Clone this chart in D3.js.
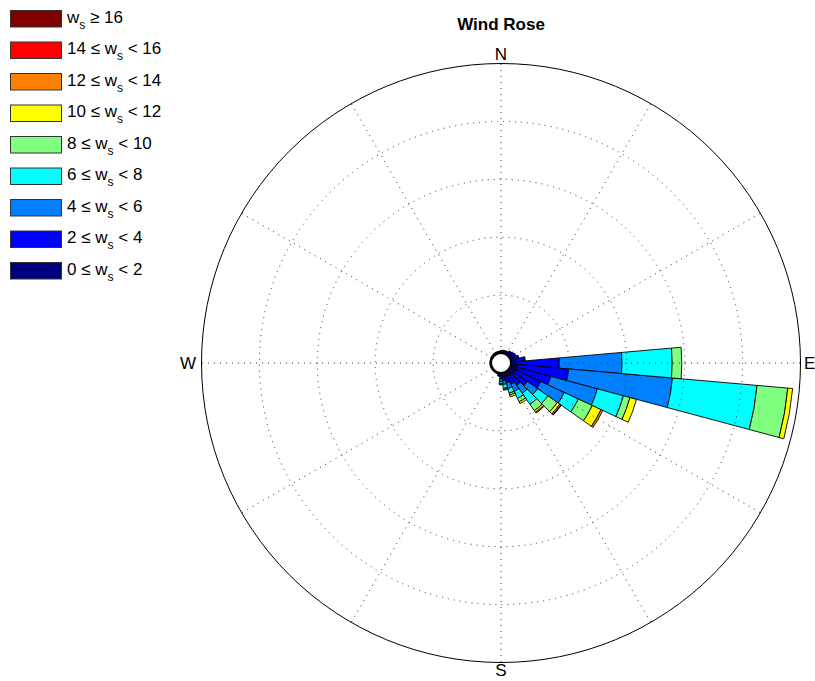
<!DOCTYPE html>
<html>
<head>
<meta charset="utf-8">
<script src="https://cdn.jsdelivr.net/npm/d3@7"></script>
<style>
  body { margin: 0; background: #fff; }
  svg { font-family: "Liberation Sans", Arial, sans-serif; }
</style>
</head>
<body>
<svg id="chart" width="815" height="681"></svg>
<script>
// directions (bearing, deg clockwise from N), 10 deg bins
var dirs = d3.range(0, 360, 10);

// frequency (%) per speed class, one value per direction
var ws0_2   = [0.25,0.3,0.3,0.35,0.4,0.4,0.4,0.4,0.5,0.7,0.7,0.7,0.7,0.6,0.6,0.5,0.5,0.4,0.3,0.2,0.15,0.12,0.12,0.12,0.12,0.12,0.12,0.12,0.12,0.12,0.15,0.15,0.2,0.2,0.2,0.2];
var ws2_4   = [0,0,0,0,0.1,0.2,0.3,0.5,0.9,4.3,5.3,3.6,2.8,1.7,1.2,0.9,0.6,0.4,0.3,0.15,0,0,0,0,0,0,0,0,0,0,0,0,0,0,0,0];
var ws4_6   = [0,0,0,0,0,0,0,0,0.1,6.5,10.8,5.0,2.7,1.3,1.0,0.8,0.6,0.4,0.3,0,0,0,0,0,0,0,0,0,0,0,0,0,0,0,0,0];
var ws6_8   = [0,0,0,0,0,0,0,0,0,5.2,8.8,2.8,1.6,1.3,1.4,0.8,0.5,0.4,0.2,0,0,0,0,0,0,0,0,0,0,0,0,0,0,0,0,0];
var ws8_10  = [0,0,0,0,0,0,0,0,0,1.0,3.2,0.7,1.6,1.2,0.8,0.4,0.2,0.1,0.1,0,0,0,0,0,0,0,0,0,0,0,0,0,0,0,0,0];
var ws10_12 = [0,0,0,0,0,0,0,0,0,0,0.5,0.7,1.0,0.3,0.2,0.2,0.2,0.1,0,0,0,0,0,0,0,0,0,0,0,0,0,0,0,0,0,0];
var ws12_14 = [0,0,0,0,0,0,0,0,0,0,0,0,0.2,0.15,0.1,0,0,0,0,0,0,0,0,0,0,0,0,0,0,0,0,0,0,0,0,0];
var ws14_16 = [0,0,0,0,0,0,0,0,0,0,0,0,0,0.05,0,0,0,0,0,0,0,0,0,0,0,0,0,0,0,0,0,0,0,0,0,0];
var ws16_   = [0,0,0,0,0,0,0,0,0,0,0,0,0,0,0,0,0,0,0,0,0,0,0,0,0,0,0,0,0,0,0,0,0,0,0,0];

var series = [ws0_2, ws2_4, ws4_6, ws6_8, ws8_10, ws10_12, ws12_14, ws14_16, ws16_];
var lows   = [0, 2, 4, 6, 8, 10, 12, 14, 16];
var colors = ['#000080','#0000ff','#0080ff','#00ffff','#80ff80','#ffff00','#ff8000','#ff0000','#800000'];

var compass = [['N',0],['E',90],['S',180],['W',270]];

var cx = 501, cy = 363, r0 = 10, R = 299.5, maxFreq = 30, ringStep = 6;

var svg = d3.select('#chart');

var rScale = d3.scaleLinear().domain([0, maxFreq]).range([r0, R]);

// build stacked table
var keys = series.map(function(d, i) { return 'k' + i; });
var table = dirs.map(function(d, j) {
    var row = {dir: d};
    series.forEach(function(s, i) { row['k' + i] = s[j]; });
    return row;
});
var stacked = d3.stack().keys(keys)(table);

var g = svg.append('g').attr('transform', 'translate(' + cx + ',' + cy + ')');

var arc = d3.arc();
var half = 5 * Math.PI / 180;

stacked.forEach(function(layer, i) {
    g.append('g').selectAll('path')
        .data(layer.filter(function(d) { return d[1] - d[0] > 0; }))
        .enter().append('path')
        .attr('d', function(d) {
            var a = d.data.dir * Math.PI / 180;
            return arc({innerRadius: rScale(d[0]), outerRadius: rScale(d[1]),
                        startAngle: a - half, endAngle: a + half});
        })
        .attr('fill', colors[i])
        .attr('stroke', '#000')
        .attr('stroke-width', 0.9)
        .attr('stroke-linejoin', 'round');
});

// dotted grid (drawn above bars)
var grid = g.append('g').attr('fill', 'none').attr('stroke', '#333')
    .attr('stroke-width', 1).attr('stroke-dasharray', '1,5');

grid.selectAll('circle')
    .data(d3.range(ringStep, maxFreq, ringStep))
    .enter().append('circle')
    .attr('r', function(d) { return rScale(d); });

grid.selectAll('line')
    .data(d3.range(0, 360, 30))
    .enter().append('line')
    .attr('x1', function(d) { return r0 * Math.sin(d * Math.PI / 180); })
    .attr('y1', function(d) { return -r0 * Math.cos(d * Math.PI / 180); })
    .attr('x2', function(d) { return R * Math.sin(d * Math.PI / 180); })
    .attr('y2', function(d) { return -R * Math.cos(d * Math.PI / 180); });

// outer circle
g.append('circle').attr('r', R).attr('fill', 'none')
    .attr('stroke', '#000').attr('stroke-width', 1);

// centre hole
g.append('circle').attr('r', r0).attr('fill', '#fff')
    .attr('stroke', '#000').attr('stroke-width', 2);

// compass labels
var lblOff = {N: [0, -303], S: [0, 313], E: [303, 6], W: [-305, 6]};
g.selectAll('text.cmp')
    .data(compass)
    .enter().append('text')
    .attr('class', 'cmp')
    .attr('x', function(d) { return lblOff[d[0]][0]; })
    .attr('y', function(d) { return lblOff[d[0]][1]; })
    .attr('text-anchor', function(d) {
        return d[0] === 'E' ? 'start' : (d[0] === 'W' ? 'end' : 'middle');
    })
    .attr('font-size', 17)
    .text(function(d) { return d[0]; });

// title
svg.append('text').attr('x', cx).attr('y', 30).attr('text-anchor', 'middle')
    .attr('font-size', 17).attr('font-weight', 'bold').text('Wind Rose');

// legend, top row is highest class
var legend = svg.append('g');
var order = d3.range(series.length).reverse();
order.forEach(function(i, row) {
    var y = 10 + row * 31.5;
    legend.append('rect').attr('x', 10.5).attr('y', y + 0.5)
        .attr('width', 51).attr('height', 16.5)
        .attr('fill', colors[i]).attr('stroke', '#333').attr('stroke-width', 1);
    var t = legend.append('text').attr('x', 67).attr('y', y + 12.5).attr('font-size', 17);
    if (i === series.length - 1) {
        t.append('tspan').text('w');
        t.append('tspan').attr('font-size', 12).attr('dy', 6).text('s');
        t.append('tspan').attr('dy', -6).text(' \u2265 ' + lows[i]);
    } else {
        t.append('tspan').text(lows[i] + ' \u2264 w');
        t.append('tspan').attr('font-size', 12).attr('dy', 6).text('s');
        t.append('tspan').attr('dy', -6).text(' < ' + lows[i + 1]);
    }
});
</script>
</body>
</html>
